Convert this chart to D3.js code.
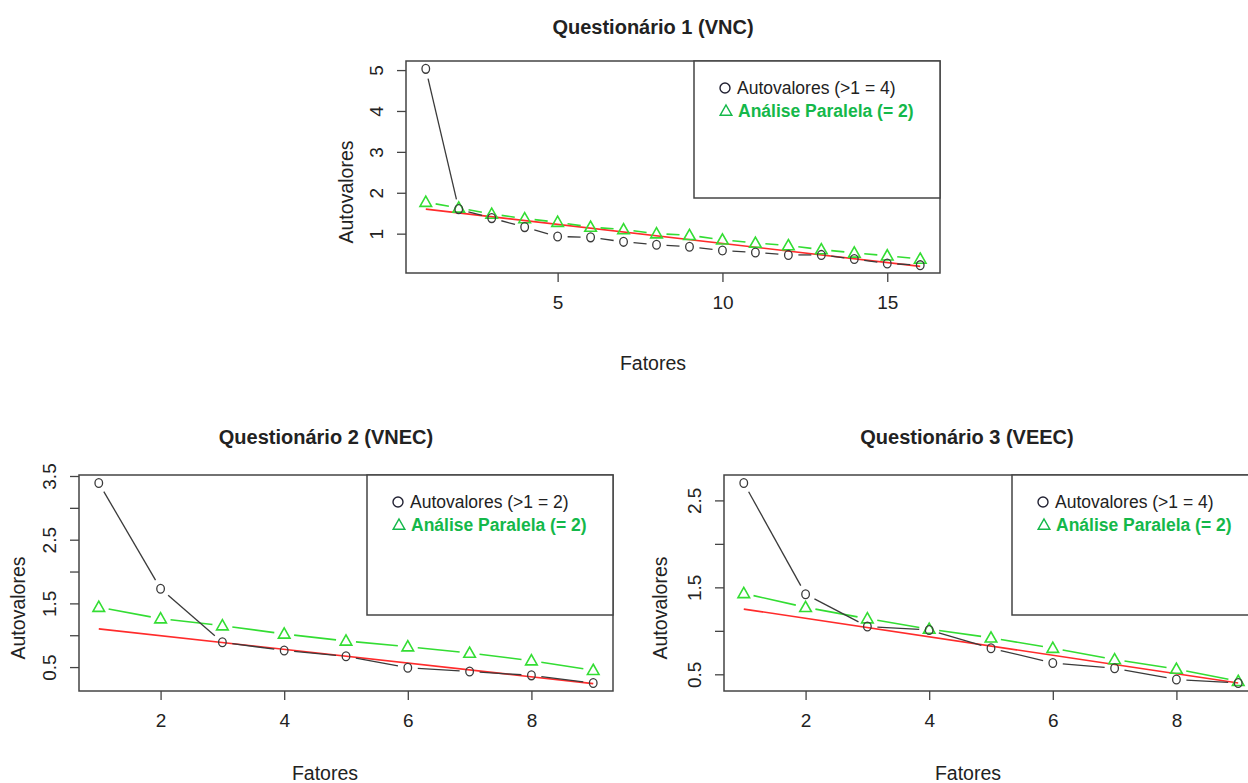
<!DOCTYPE html>
<html>
<head>
<meta charset="utf-8">
<script src="https://cdn.jsdelivr.net/npm/d3@7"></script>
<style>
  body { margin: 0; background: #fff; }
  svg { display: block; font-family: "Liberation Sans", Arial, sans-serif; }
</style>
</head>
<body>
<div id="chart"></div>
<script>
// Questionário 1 (VNC)
const fatores1 = [1, 2, 3, 4, 5, 6, 7, 8, 9, 10, 11, 12, 13, 14, 15, 16];
const autovalores1 = [5.03, 1.60, 1.38, 1.16, 0.93, 0.91, 0.80, 0.73, 0.68, 0.59, 0.54, 0.48, 0.48, 0.38, 0.27, 0.23];
const paralela1 = [1.77, 1.63, 1.48, 1.37, 1.28, 1.16, 1.10, 1.00, 0.96, 0.85, 0.77, 0.71, 0.61, 0.53, 0.46, 0.38];
const ocX1 = [1, 16];
const ocY1 = [1.60, 0.20];
const legenda1 = ["Autovalores (>1 = 4)", "Análise Paralela (= 2)"];
const xTicks1 = [5, 10, 15];
const yTicks1 = [1, 2, 3, 4, 5];
const yLabels1 = [1, 2, 3, 4, 5];

// Questionário 2 (VNEC)
const fatores2 = [1, 2, 3, 4, 5, 6, 7, 8, 9];
const autovalores2 = [3.39, 1.73, 0.89, 0.76, 0.67, 0.49, 0.43, 0.37, 0.25];
const paralela2 = [1.44, 1.26, 1.15, 1.02, 0.91, 0.82, 0.72, 0.60, 0.45];
const ocX2 = [1, 9];
const ocY2 = [1.10, 0.24];
const legenda2 = ["Autovalores (>1 = 2)", "Análise Paralela (= 2)"];
const xTicks2 = [2, 4, 6, 8];
const yTicks2 = [0.5, 1, 1.5, 2, 2.5, 3, 3.5];
const yLabels2 = [0.5, 1.5, 2.5, 3.5];

// Questionário 3 (VEEC)
const fatores3 = [1, 2, 3, 4, 5, 6, 7, 8, 9];
const autovalores3 = [2.70, 1.42, 1.05, 1.01, 0.80, 0.63, 0.57, 0.44, 0.40];
const paralela3 = [1.43, 1.27, 1.14, 1.02, 0.92, 0.80, 0.67, 0.56, 0.42];
const ocX3 = [1, 9];
const ocY3 = [1.25, 0.40];
const legenda3 = ["Autovalores (>1 = 4)", "Análise Paralela (= 2)"];
const xTicks3 = [2, 4, 6, 8];
const yTicks3 = [0.5, 1, 1.5, 2, 2.5];
const yLabels3 = [0.5, 1.5, 2.5];

const panels = [
  { title: "Questionário 1 (VNC)", x: fatores1, eig: autovalores1, par: paralela1, ocX: ocX1, ocY: ocY1,
    legend: legenda1, xTicks: xTicks1, yTicks: yTicks1, yLabels: yLabels1,
    left: 406, top: 61, width: 534, height: 212, titleX: 653, titleY: 34, xlabX: 653, xlabY: 370, ylabX: 346, legH: 137 },
  { title: "Questionário 2 (VNEC)", x: fatores2, eig: autovalores2, par: paralela2, ocX: ocX2, ocY: ocY2,
    legend: legenda2, xTicks: xTicks2, yTicks: yTicks2, yLabels: yLabels2,
    left: 79, top: 475, width: 534, height: 216, titleX: 326, titleY: 444, xlabX: 325, xlabY: 780, ylabX: 18, legH: 140 },
  { title: "Questionário 3 (VEEC)", x: fatores3, eig: autovalores3, par: paralela3, ocX: ocX3, ocY: ocY3,
    legend: legenda3, xTicks: xTicks3, yTicks: yTicks3, yLabels: yLabels3,
    left: 724, top: 475, width: 534, height: 216, titleX: 967, titleY: 444, xlabX: 968, xlabY: 780, ylabX: 660, legH: 140 }
];

const boxColor = "#444";
const textColor = "#222";
const eigColor = "#3a3a3a";
const parColor = "#33dd33";
const ocColor = "#ff2b2b";
const legGreen = "#14b84a";

const svg = d3.select("#chart")
  .append("svg")
  .attr("width", 1248)
  .attr("height", 783);

const triPath = "M0,-6 L5.8,4.2 L-5.8,4.2 Z";

// type="b" style: segments with gaps around the points
function gapSegments(g, pts, gap, color, width) {
  for (let i = 0; i < pts.length - 1; i++) {
    const [x1, y1] = pts[i], [x2, y2] = pts[i + 1];
    const len = Math.hypot(x2 - x1, y2 - y1);
    if (len <= 2 * gap) continue;
    const ux = (x2 - x1) / len, uy = (y2 - y1) / len;
    g.append("line")
      .attr("x1", x1 + ux * gap).attr("y1", y1 + uy * gap)
      .attr("x2", x2 - ux * gap).attr("y2", y2 - uy * gap)
      .attr("stroke", color)
      .attr("stroke-width", width);
  }
}

panels.forEach(p => {
  const n = p.x.length;
  const xPad = 0.04 * (p.x[n - 1] - p.x[0]);
  const yMin = d3.min(p.eig), yMax = d3.max(p.eig);
  const yPad = 0.04 * (yMax - yMin);

  const x = d3.scaleLinear()
    .domain([p.x[0] - xPad, p.x[n - 1] + xPad])
    .range([p.left, p.left + p.width]);
  const y = d3.scaleLinear()
    .domain([yMin - yPad, yMax + yPad])
    .range([p.top + p.height, p.top]);

  const g = svg.append("g");

  // axes
  const xAxis = g.append("g")
    .attr("transform", `translate(0,${p.top + p.height})`)
    .call(d3.axisBottom(x).tickValues(p.xTicks).tickSize(9).tickPadding(14));
  xAxis.select(".domain").remove();
  xAxis.selectAll("line").attr("stroke", boxColor).attr("stroke-width", 1.3);
  xAxis.selectAll("text")
    .attr("font-size", 19)
    .attr("font-family", "Liberation Sans, Arial, sans-serif")
    .attr("fill", textColor);

  const yAxis = g.append("g")
    .attr("transform", `translate(${p.left},0)`)
    .call(d3.axisLeft(y).tickValues(p.yTicks).tickSize(9)
      .tickFormat(d => p.yLabels.includes(d) ? d3.format("")(d) : ""));
  yAxis.select(".domain").remove();
  yAxis.selectAll("line").attr("stroke", boxColor).attr("stroke-width", 1.3);
  yAxis.selectAll("text")
    .attr("x", 0).attr("y", -30).attr("dy", null)
    .attr("text-anchor", "middle")
    .attr("dominant-baseline", "central")
    .attr("transform", "rotate(-90)")
    .attr("font-size", 19)
    .attr("font-family", "Liberation Sans, Arial, sans-serif")
    .attr("fill", textColor);

  // optimal coordinates line
  g.append("path")
    .datum(p.ocX.map((v, i) => [v, p.ocY[i]]))
    .attr("d", d3.line().x(d => x(d[0])).y(d => y(d[1])))
    .attr("fill", "none")
    .attr("stroke", ocColor)
    .attr("stroke-width", 1.6);

  // parallel analysis
  const parPts = p.x.map((v, i) => [x(v), y(p.par[i])]);
  gapSegments(g, parPts, 10, parColor, 1.6);
  g.selectAll(".tri")
    .data(p.par)
    .enter().append("path")
    .attr("transform", (d, i) => `translate(${x(p.x[i])},${y(d)})`)
    .attr("d", triPath)
    .attr("fill", "none")
    .attr("stroke", parColor)
    .attr("stroke-width", 1.6);

  // eigenvalues
  const eigPts = p.x.map((v, i) => [x(v), y(p.eig[i])]);
  gapSegments(g, eigPts, 10, eigColor, 1.3);
  g.selectAll(".pt")
    .data(p.eig)
    .enter().append("ellipse")
    .attr("cx", (d, i) => x(p.x[i]))
    .attr("cy", d => y(d))
    .attr("rx", 3.8)
    .attr("ry", 4.4)
    .attr("fill", "none")
    .attr("stroke", eigColor)
    .attr("stroke-width", 1.3);

  // box
  g.append("rect")
    .attr("x", p.left).attr("y", p.top)
    .attr("width", p.width).attr("height", p.height)
    .attr("fill", "none")
    .attr("stroke", boxColor)
    .attr("stroke-width", 1.5);

  // legend
  const L = p.left + p.width - 246, T = p.top;
  g.append("rect")
    .attr("x", L).attr("y", T)
    .attr("width", 246).attr("height", p.legH)
    .attr("fill", "#fff")
    .attr("stroke", boxColor)
    .attr("stroke-width", 1.5);
  g.append("circle")
    .attr("cx", L + 31).attr("cy", T + 27).attr("r", 5)
    .attr("fill", "none").attr("stroke", "#223").attr("stroke-width", 1.4);
  g.append("text")
    .attr("x", L + 43).attr("y", T + 33)
    .attr("font-size", 17.5).attr("fill", textColor)
    .text(p.legend[0]);
  g.append("path")
    .attr("transform", `translate(${L + 32},${T + 50})`)
    .attr("d", triPath)
    .attr("fill", "none").attr("stroke", legGreen).attr("stroke-width", 1.5);
  g.append("text")
    .attr("x", L + 44).attr("y", T + 56)
    .attr("font-size", 17.5).attr("font-weight", "bold").attr("fill", legGreen)
    .text(p.legend[1]);

  // titles and labels
  g.append("text")
    .attr("x", p.titleX).attr("y", p.titleY)
    .attr("text-anchor", "middle")
    .attr("font-size", 20).attr("font-weight", "bold").attr("fill", textColor)
    .text(p.title);
  g.append("text")
    .attr("x", p.xlabX).attr("y", p.xlabY)
    .attr("text-anchor", "middle")
    .attr("font-size", 19.5).attr("fill", textColor)
    .text("Fatores");
  g.append("text")
    .attr("transform", `translate(${p.ylabX},${p.top + p.height / 2 + 25}) rotate(-90)`)
    .attr("text-anchor", "middle")
    .attr("dominant-baseline", "central")
    .attr("font-size", 19.5).attr("fill", textColor)
    .text("Autovalores");
});
</script>
</body>
</html>
